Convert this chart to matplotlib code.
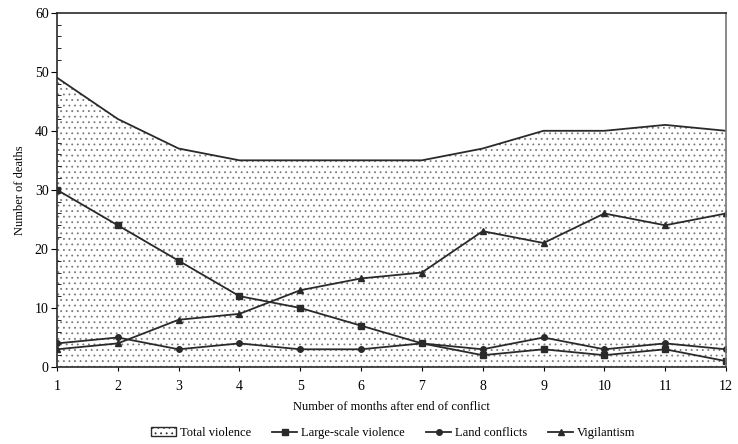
import matplotlib
matplotlib.use("Agg")
import matplotlib.pyplot as plt
from matplotlib.patches import Patch
from matplotlib.lines import Line2D
from matplotlib.ticker import MultipleLocator

months = list(range(1, 13))
total_violence = [49, 42, 37, 35, 35, 35, 35, 37, 40, 40, 41, 40]
large_scale = [30, 24, 18, 12, 10, 7, 4, 2, 3, 2, 3, 1]
land_conflicts = [4, 5, 3, 4, 3, 3, 4, 3, 5, 3, 4, 3]
vigilantism = [3, 4, 8, 9, 13, 15, 16, 23, 21, 26, 24, 26]

plt.rcParams['font.family'] = ['Liberation Serif', 'DejaVu Serif']
plt.rcParams['hatch.color'] = '#7a7a7a'
plt.rcParams['hatch.linewidth'] = 0.6

fig = plt.figure(figsize=(7.38, 4.44), dpi=100)
ax = fig.add_axes([0.0772, 0.1734, 0.9065, 0.798])

ax.fill_between(months, 0, total_violence, facecolor='white', edgecolor='none',
                hatch='...', linewidth=0)
ax.plot(months, total_violence, color='#2a2a2a', lw=1.3)

lc = '#2a2a2a'
ax.plot(months, large_scale, color=lc, lw=1.3, marker='s', ms=4)
ax.plot(months, land_conflicts, color=lc, lw=1.3, marker='o', ms=4)
ax.plot(months, vigilantism, color=lc, lw=1.3, marker='^', ms=4)

ax.set_xlim(1, 12)
ax.set_ylim(0, 60)
ax.set_xticks(months)
ax.set_yticks(range(0, 61, 10))
ax.yaxis.set_minor_locator(MultipleLocator(2))
ax.tick_params(axis='y', which='major', direction='out', length=4, labelsize=10, pad=2)
ax.tick_params(axis='y', which='minor', direction='in', length=3)
ax.tick_params(axis='x', direction='out', length=3, labelsize=10, pad=6)
for s in ax.spines.values():
    s.set_linewidth(1.2)
    s.set_color('#2a2a2a')
ax.spines['right'].set_color('#777777')

ax.set_xlabel('Number of months after end of conflict', fontsize=9, labelpad=6)
ax.set_ylabel('Number of deaths', fontsize=9, labelpad=6)

handles = [
    Patch(facecolor='white', edgecolor='#2a2a2a', hatch='...', label='Total violence'),
    Line2D([], [], color=lc, lw=1.3, marker='s', ms=4, label='Large-scale violence'),
    Line2D([], [], color=lc, lw=1.3, marker='o', ms=4, label='Land conflicts'),
    Line2D([], [], color=lc, lw=1.3, marker='^', ms=4, label='Vigilantism'),
]
fig.legend(handles=handles, loc='center', bbox_to_anchor=(0.533, 0.025), ncol=4,
           frameon=False, fontsize=9, handlelength=2.0, handletextpad=0.3,
           columnspacing=1.7)

fig.savefig('out.png', dpi=100)
